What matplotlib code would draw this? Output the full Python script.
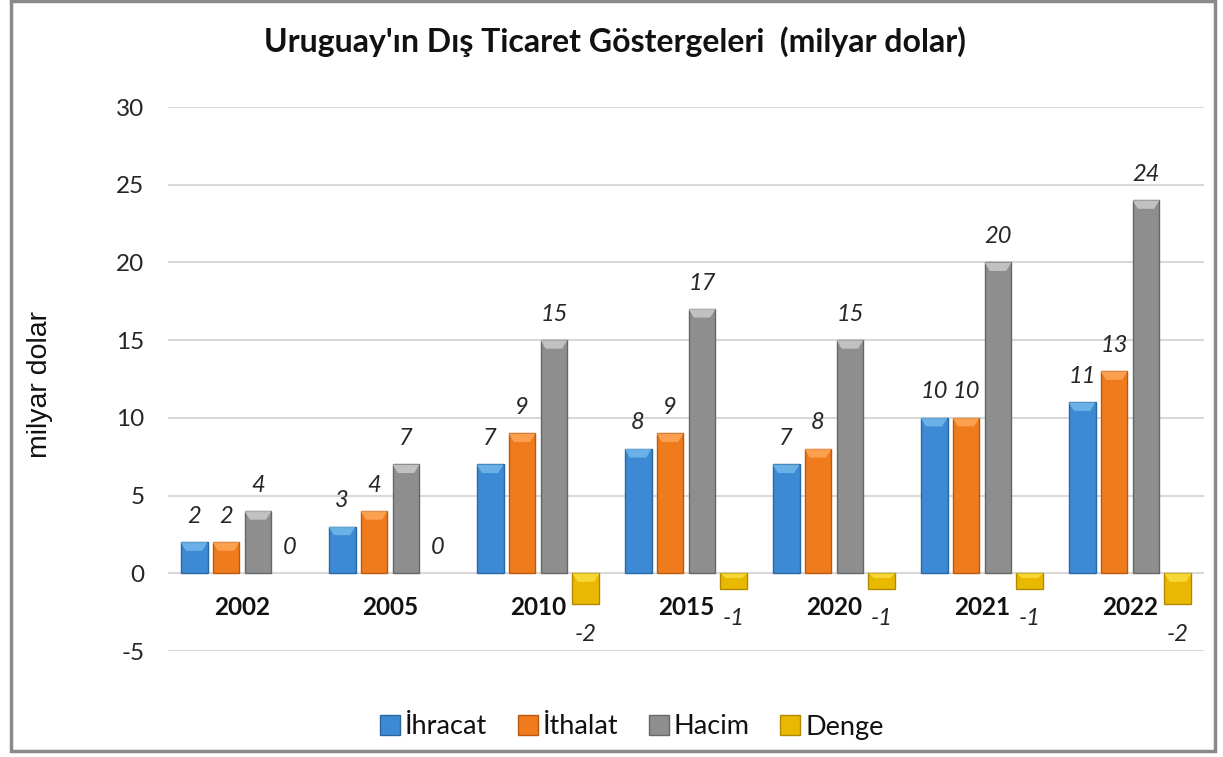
import matplotlib
matplotlib.use("Agg")
import matplotlib.pyplot as plt
from matplotlib.patches import Rectangle, Polygon
from matplotlib.lines import Line2D
import numpy as np

years = ["2002", "2005", "2010", "2015", "2020", "2021", "2022"]
ihracat = [2, 3, 7, 8, 7, 10, 11]
ithalat = [2, 4, 9, 9, 8, 10, 13]
hacim = [4, 7, 15, 17, 15, 20, 24]
denge = [0, 0, -2, -1, -1, -1, -2]
series_names = ["İhracat", "İthalat", "Hacim", "Denge"]
yticks = [-5, 0, 5, 10, 15, 20, 25, 30]

colors = ["#3b8ad3", "#f07b1c", "#8e8e8e", "#e9b800"]
edges = ["#2a66a0", "#b95a10", "#666666", "#b08a00"]
lights = ["#7ec3f0", "#ffb066", "#d8d8d8", "#ffe44d"]

FONT = "Lato"
plt.rcParams["font.family"] = [FONT, "DejaVu Sans"]

W, H = 1223, 757
fig = plt.figure(figsize=(W / 100, H / 100), dpi=100)
fig.patch.set_facecolor("white")

# outer border
fig.add_artist(Rectangle((11 / W, 6 / H), (1215 - 11) / W, (756 - 6) / H,
                         transform=fig.transFigure, fill=False,
                         edgecolor="#8a8a8a", linewidth=2.5))

ax_l, ax_r = 168 / W, 1204 / W
ax_b, ax_t = (H - 651) / H, (H - 107) / H
ax = fig.add_axes([ax_l, ax_b, ax_r - ax_l, ax_t - ax_b])
ax.set_xlim(-0.5, len(years) - 0.5)
ax.set_ylim(-5, 30)
for s in ax.spines.values():
    s.set_visible(False)
ax.set_yticks(yticks)
ax.set_yticklabels([str(t) for t in yticks], fontsize=17.5, color="#262626")
ax.tick_params(axis="y", length=0, pad=17)
ax.set_xticks([])
ax.grid(axis="y", color="#d9d9d9", linewidth=1.5)
ax.set_axisbelow(True)

data = [ihracat, ithalat, hacim, denge]
x = np.arange(len(years))
bw = 0.182
step = 0.216
for i, vals in enumerate(data):
    pos = x + (i - 1.5) * step
    bars = ax.bar(pos, vals, width=bw, color=colors[i], edgecolor=edges[i],
                  linewidth=1.0, zorder=3)
    for b, v in zip(bars, vals):
        bx = b.get_x()
        bwid = b.get_width()
        end_y = b.get_y() + b.get_height()
        base_y = b.get_y()
        if v == 0:
            b.set_visible(False)
        else:
            depth = min(0.55, abs(v) * 0.3)
            # bevel highlight at the top of the bar
            hi_y = max(end_y, base_y)
            poly = Polygon([(bx, hi_y), (bx + bwid, hi_y),
                            (bx + bwid * 0.8, hi_y - depth),
                            (bx + bwid * 0.2, hi_y - depth)],
                           closed=True, facecolor=lights[i], edgecolor="none",
                           alpha=0.7, zorder=4)
            ax.add_patch(poly)
        cx = bx + bwid / 2
        if v >= 0:
            ax.annotate(str(v), (cx, end_y), xytext=(0, 18.7),
                        textcoords="offset points", ha="center", va="center",
                        fontsize=17, fontstyle="italic", color="#262626")
        else:
            ax.annotate(str(v), (cx, end_y), xytext=(0, -21.6),
                        textcoords="offset points", ha="center", va="center",
                        fontsize=17, fontstyle="italic", color="#262626")

# category labels just below the zero line
for xi, yr in zip(x, years):
    ax.annotate(yr, (xi, 0), xytext=(0, -24.5), textcoords="offset points",
                ha="center", va="center", fontsize=17.5, fontweight="bold",
                color="#111111")

fig.text(40 / W, 1 - 385 / H, "milyar dolar", rotation=90, ha="center",
         va="center", fontsize=20.5, color="#111111",
         family=["Liberation Sans", "DejaVu Sans"])

fig.text(615 / W, 1 - 42 / H, "Uruguay'ın Dış Ticaret Göstergeleri  (milyar dolar)",
         ha="center", va="center", fontsize=23, fontweight="bold", color="#111111")

handles = [Line2D([], [], marker="s", linestyle="none", markersize=14,
                  markerfacecolor=colors[i], markeredgecolor=edges[i])
           for i in range(4)]
fig.legend(handles, series_names, loc="center",
           bbox_to_anchor=(630 / W, 1 - 727 / H), ncol=4, frameon=False,
           fontsize=19.5, handletextpad=0.05, columnspacing=1.0,
           handlelength=1.0, labelcolor="#111111")

fig.savefig("out.png", dpi=100, facecolor="white")
